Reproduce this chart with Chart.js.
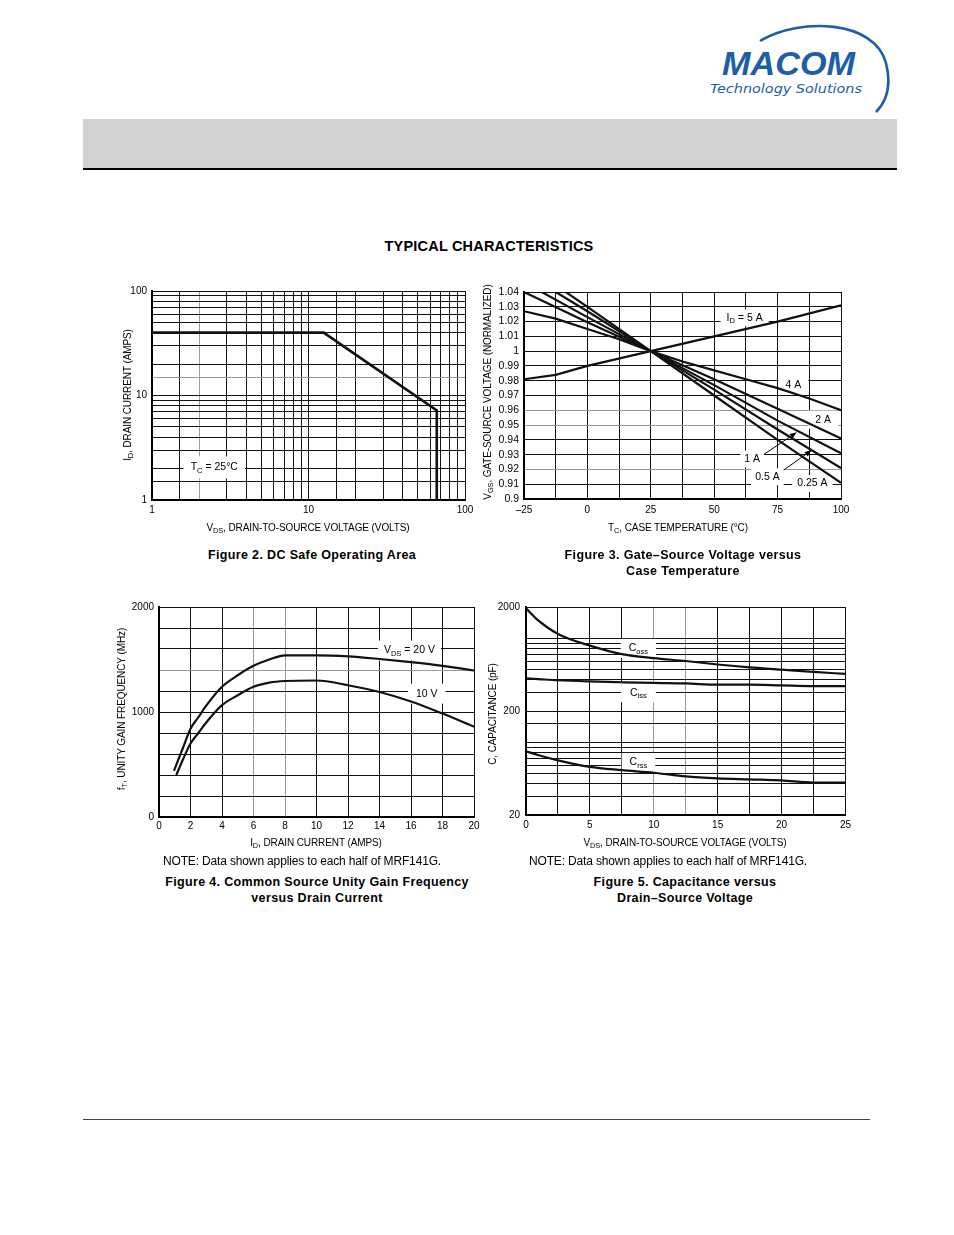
<!DOCTYPE html>
<html>
<head>
<meta charset="utf-8">
<title>Typical Characteristics</title>
<script src="https://cdn.jsdelivr.net/npm/chart.js@4/dist/chart.umd.min.js"></script>
<style>
  body { margin: 0; background: #fff; }
  #page { position: relative; width: 954px; height: 1235px; overflow: hidden;
          font-family: 'Liberation Sans', Arial, sans-serif; color: #000; }
  .abs { position: absolute; white-space: nowrap; }
  .narrow { font-family: 'Liberation Sans Narrow', 'Arial Narrow', 'Liberation Sans', Arial, sans-serif; font-size: 10px; letter-spacing: -0.1px; }
  .ctr { transform: translate(-50%, -50%); text-align: center; }
  .rot { transform: translate(-50%, -50%) rotate(-90deg); }
  .cap { font-weight: bold; font-size: 12.5px; line-height: 16px; letter-spacing: 0.35px; }
  .note { font-size: 12px; letter-spacing: -0.15px; }
  sub { font-size: 0.74em; vertical-align: -0.3em; line-height: 0; }
  canvas { position: absolute; }
</style>
</head>
<body>
<div id="page">

  <!-- header: logo, grey band -->
  <svg class="abs" style="left:690px;top:15px" width="210" height="105" viewBox="0 0 210 105">
    <path d="M 70 26 C 110 2, 185 5, 196 48 C 201 68, 198 85, 186 97" fill="none" stroke="#1c5ea8" stroke-width="2.6"/>
    <text x="32" y="60" font-family="'Liberation Sans Narrow','Liberation Sans',sans-serif" font-weight="bold" font-style="italic"
          font-size="34" fill="#1c5ea8" textLength="133" lengthAdjust="spacingAndGlyphs">MACOM</text>
    <text x="20" y="78" font-family="'DejaVu Sans',sans-serif" font-style="italic" font-size="13"
          fill="#1c5ea8" textLength="152" lengthAdjust="spacingAndGlyphs">Technology Solutions</text>
  </svg>
  <div class="abs" style="left:83px;top:119px;width:814px;height:49px;background:#d2d2d2"></div>
  <div class="abs" style="left:83px;top:168px;width:814px;height:2px;background:#000"></div>

  <div class="abs ctr" style="left:489px;top:246px;font-weight:bold;font-size:14.5px;letter-spacing:0.2px">TYPICAL CHARACTERISTICS</div>

  <!-- chart canvases -->
  <canvas id="soaChart" width="370" height="260" style="left:110px;top:280px;width:370px;height:260px"></canvas>
  <canvas id="vgsChart" width="380" height="260" style="left:475px;top:280px;width:380px;height:260px"></canvas>
  <canvas id="ftChart" width="375" height="260" style="left:110px;top:595px;width:375px;height:260px"></canvas>
  <canvas id="capChart" width="375" height="260" style="left:480px;top:595px;width:375px;height:260px"></canvas>

  <!-- axis titles -->
  <div class="abs narrow rot" style="left:127px;top:395px">I<sub>D</sub>, DRAIN CURRENT (AMPS)</div>
  <div class="abs narrow ctr" style="left:308px;top:527px">V<sub>DS</sub>, DRAIN-TO-SOURCE VOLTAGE (VOLTS)</div>
  <div class="abs narrow rot" style="left:487px;top:392px">V<sub>GS</sub>, GATE-SOURCE VOLTAGE (NORMALIZED)</div>
  <div class="abs narrow ctr" style="left:678px;top:527px">T<sub>C</sub>, CASE TEMPERATURE (°C)</div>
  <div class="abs narrow rot" style="left:121px;top:709px">f<sub>T</sub>, UNITY GAIN FREQUENCY (MHz)</div>
  <div class="abs narrow ctr" style="left:316px;top:842px">I<sub>D</sub>, DRAIN CURRENT (AMPS)</div>
  <div class="abs narrow rot" style="left:492px;top:714px">C, CAPACITANCE (pF)</div>
  <div class="abs narrow ctr" style="left:685px;top:842px">V<sub>DS</sub>, DRAIN-TO-SOURCE VOLTAGE (VOLTS)</div>

  <!-- captions -->
  <div class="abs ctr cap" style="left:312px;top:555px">Figure 2. DC Safe Operating Area</div>
  <div class="abs ctr cap" style="left:683px;top:563px">Figure 3. Gate–Source Voltage versus<br>Case Temperature</div>
  <div class="abs ctr note" style="left:302px;top:861px">NOTE: Data shown applies to each half of MRF141G.</div>
  <div class="abs ctr note" style="left:668px;top:861px">NOTE: Data shown applies to each half of MRF141G.</div>
  <div class="abs ctr cap" style="left:317px;top:890px">Figure 4. Common Source Unity Gain Frequency<br>versus Drain Current</div>
  <div class="abs ctr cap" style="left:685px;top:890px">Figure 5. Capacitance versus<br>Drain–Source Voltage</div>

  <div class="abs" style="left:83px;top:1119px;width:787px;height:1px;background:#444"></div>
</div>

<script>
// ==========================================
// Data
// ==========================================

// Figure 2 - DC safe operating area (log / log)
var soaVoltage = [1, 12.5, 66, 66];
var soaCurrent = [40, 40, 7.2, 1];
var logGridTicks = [1, 1.5, 2, 3, 4, 5, 6, 7, 8, 9, 10, 15, 20, 30, 40, 50, 60, 70, 80, 90, 100];
var soaTickLabels = [1, 10, 100];

// Figure 3 - normalised VGS vs case temperature, one array pair per drain current
var temp5A = [-25, -12.5, 0, 25, 50, 75, 100];
var vgs5A = [0.981, 0.984, 0.990, 1.0, 1.010, 1.020, 1.031];
var temp4A = [-25, -12.5, 0, 12.5, 25, 37.5, 50, 62.5, 75, 87.5, 100];
var vgs4A = [1.027, 1.022, 1.015, 1.008, 1.0, 0.993, 0.987, 0.981, 0.975, 0.968, 0.960];
var temp2A = [-25, 0, 25, 50, 75, 100];
var vgs2A = [1.040, 1.0195, 1.0, 0.981, 0.961, 0.941];
var temp1A = [-18, 0, 25, 50, 75, 100];
var vgs1A = [1.040, 1.023, 1.0, 0.977, 0.953, 0.931];
var temp05A = [-12.5, 0, 25, 50, 75, 100];
var vgs05A = [1.040, 1.027, 1.0, 0.974, 0.947, 0.921];
var temp025A = [-8.5, 0, 25, 50, 75, 100];
var vgs025A = [1.040, 1.030, 1.0, 0.970, 0.940, 0.911];
var tempTicks = [-25, -12.5, 0, 12.5, 25, 37.5, 50, 62.5, 75, 87.5, 100];
var tempTickLabels = [-25, 0, 25, 50, 75, 100];
var vgsTicks = [0.9, 0.91, 0.92, 0.93, 0.94, 0.95, 0.96, 0.97, 0.98, 0.99, 1, 1.01, 1.02, 1.03, 1.04];

// Figure 4 - unity gain frequency vs drain current
var ftCurrent20V = [0.95, 1.5, 2, 2.5, 3, 4, 5, 6, 7, 8, 10, 12, 14, 16, 18, 20];
var ft20V = [440, 650, 840, 950, 1060, 1240, 1350, 1440, 1500, 1540, 1540, 1530, 1505, 1475, 1440, 1395];
var ftCurrent10V = [1.1, 1.5, 2, 2.5, 3, 4, 5, 6, 7, 8, 10, 12, 14, 16, 18, 20];
var ft10V = [400, 540, 700, 800, 900, 1065, 1160, 1240, 1280, 1295, 1300, 1255, 1190, 1100, 985, 860];
var currentTicks = [0, 2, 4, 6, 8, 10, 12, 14, 16, 18, 20];
var ftTicks = [0, 200, 400, 600, 800, 1000, 1200, 1400, 1600, 1800, 2000];
var ftTickLabels = [0, 1000, 2000];

// Figure 5 - capacitance vs drain-source voltage
var capVoltage = [0, 1, 2.5, 5, 7.5, 10, 12.5, 15, 17.5, 20, 22.5, 25];
var coss = [1940, 1470, 1100, 850, 705, 645, 605, 560, 525, 500, 475, 455];
var ciss = [412, 405, 395, 385, 378, 372, 368, 358, 358, 352, 347, 347];
var crss = [82, 75, 67, 58, 54, 51, 47, 45, 44, 43, 41, 41];
var voltTicks = [0, 2.5, 5, 7.5, 10, 12.5, 15, 17.5, 20, 22.5, 25];
var voltTickLabels = [0, 5, 10, 15, 20, 25];
var capTicks = [20, 30, 40, 50, 60, 70, 80, 90, 100, 150, 200, 300, 400, 500, 600, 700, 800, 900, 1000, 2000];
var capTickLabels = [20, 200, 2000];

// ==========================================
// Shared helpers
// ==========================================

var NARROW = "'Liberation Sans Narrow', 'Arial Narrow', 'Liberation Sans', Arial, sans-serif";
Chart.defaults.font.family = NARROW;
Chart.defaults.font.size = 10;
Chart.defaults.color = '#000';
Chart.defaults.animation = false;

function inList(list, v) {
    return list.some(function(t) { return Math.abs(t - v) < 1e-9; });
}

/**
 * Build one axis with an explicit tick list, fixed thickness and a few grey grid lines.
 */
function makeAxis(o) {
    return {
        type: o.type || 'linear',
        min: o.min,
        max: o.max,
        afterBuildTicks: function(scale) {
            scale.ticks = o.ticks.map(function(v) { return { value: v }; });
        },
        afterFit: function(scale) {
            if (scale.isHorizontal()) scale.height = o.fit; else scale.width = o.fit;
        },
        grid: {
            drawTicks: false,
            lineWidth: 1,
            color: function(ctx) {
                return ctx.tick && inList(o.gray || [], ctx.tick.value) ? '#9c9c9c' : '#111';
            }
        },
        border: { display: true, color: '#000', width: 2 },
        ticks: {
            autoSkip: false,
            maxRotation: 0,
            padding: o.pad,
            font: { size: o.fontSize || 10 },
            callback: function(v) {
                if (o.labels && !inList(o.labels, v)) return '';
                return o.format ? o.format(v) : String(v);
            }
        }
    };
}

function curve(xs, ys, opts) {
    return Object.assign({
        data: xs.map(function(x, i) { return { x: x, y: ys[i] }; }),
        showLine: true,
        pointRadius: 0,
        borderColor: '#111',
        borderWidth: 2.2,
        fill: false,
        tension: 0
    }, opts || {});
}

// Curve labels: white box over the grid, text with subscripts, optional arrow leader
var curveLabels = {
    id: 'curveLabels',
    beforeDatasetsDraw: function(chart, args, opts) {
        var ctx = chart.ctx, sx = chart.scales.x, sy = chart.scales.y;
        var size = opts.size || 10.5;
        (opts.items || []).forEach(function(item) {
            ctx.save();
            if (item.leader) {
                var x1 = sx.getPixelForValue(item.leader[0]), y1 = sy.getPixelForValue(item.leader[1]);
                var x2 = sx.getPixelForValue(item.leader[2]), y2 = sy.getPixelForValue(item.leader[3]);
                var a = Math.atan2(y2 - y1, x2 - x1);
                ctx.strokeStyle = '#000';
                ctx.lineWidth = 1;
                ctx.beginPath(); ctx.moveTo(x1, y1); ctx.lineTo(x2, y2); ctx.stroke();
                ctx.beginPath();
                ctx.moveTo(x2, y2);
                ctx.lineTo(x2 - 7 * Math.cos(a - 0.4), y2 - 7 * Math.sin(a - 0.4));
                ctx.lineTo(x2 - 7 * Math.cos(a + 0.4), y2 - 7 * Math.sin(a + 0.4));
                ctx.closePath();
                ctx.fillStyle = '#000';
                ctx.fill();
            }
            var cx = sx.getPixelForValue(item.x), cy = sy.getPixelForValue(item.y);
            var fonts = item.text.map(function(p) { return (p[1] ? size * 0.72 : size) + 'px ' + NARROW; });
            var widths = item.text.map(function(p, i) { ctx.font = fonts[i]; return ctx.measureText(p[0]).width; });
            var total = widths.reduce(function(s, w) { return s + w; }, 0);
            var padX = item.padX || 5, h = item.boxH || size * 1.6;
            ctx.fillStyle = '#fff';
            ctx.fillRect(cx - total / 2 - padX, cy - h / 2, total + 2 * padX, h);
            ctx.fillStyle = '#000';
            ctx.textBaseline = 'middle';
            ctx.textAlign = 'left';
            var x = cx - total / 2;
            item.text.forEach(function(p, i) {
                ctx.font = fonts[i];
                ctx.fillText(p[0], x, cy + (p[1] ? size * 0.32 : 0));
                x += widths[i];
            });
            ctx.restore();
        });
    }
};

function makeChart(id, datasets, scales, padding, labels) {
    return new Chart(document.getElementById(id), {
        type: 'scatter',
        data: { datasets: datasets },
        plugins: [curveLabels],
        options: {
            responsive: false,
            animation: false,
            layout: { padding: padding },
            scales: scales,
            plugins: {
                legend: { display: false },
                tooltip: { enabled: false },
                curveLabels: { items: labels }
            }
        }
    });
}

// ==========================================
// Figure 2: DC Safe Operating Area
// ==========================================
makeChart('soaChart',
    [curve(soaVoltage, soaCurrent, { borderWidth: 2.6 })],
    {
        x: makeAxis({ type: 'logarithmic', min: 1, max: 100, ticks: logGridTicks, labels: soaTickLabels, gray: [2], fit: 40, pad: 4 }),
        y: makeAxis({ type: 'logarithmic', min: 1, max: 100, ticks: logGridTicks, labels: soaTickLabels, gray: [15], fit: 42, pad: 5 })
    },
    { top: 11, right: 15, left: 0, bottom: 0 },
    [
        { x: 2.5, y: 2.05, text: [['T'], ['C', 1], [' = 25°C']], padX: 7, boxH: 22 }
    ]
);

// ==========================================
// Figure 3: Gate-Source Voltage vs Case Temperature
// ==========================================
makeChart('vgsChart',
    [
        curve(temp5A, vgs5A),
        curve(temp4A, vgs4A),
        curve(temp2A, vgs2A),
        curve(temp1A, vgs1A),
        curve(temp05A, vgs05A),
        curve(temp025A, vgs025A)
    ],
    {
        x: makeAxis({ min: -25, max: 100, ticks: tempTicks, labels: tempTickLabels, fit: 41, pad: 5,
                      format: function(v) { return v < 0 ? '\u2013' + Math.abs(v) : String(v); } }),
        y: makeAxis({ min: 0.9, max: 1.04, ticks: vgsTicks, gray: [0.96, 0.95, 0.92], fit: 49, pad: 5, fontSize: 10.5,
                      format: function(v) { return String(parseFloat(v.toFixed(2))); } })
    },
    { top: 12, right: 14, left: 0, bottom: 0 },
    [
        { x: 62, y: 1.0225, text: [['I'], ['D', 1], [' = 5 A']], padX: 6 },
        { x: 81.2, y: 0.977, text: [['4 A']], padX: 7, boxH: 18 },
        { x: 93, y: 0.9536, text: [['2 A']], padX: 7, boxH: 18 },
        { x: 65, y: 0.927, text: [['1 A']], padX: 4, leader: [69, 0.9295, 82.4, 0.9449] },
        { x: 71, y: 0.915, text: [['0.5 A']], padX: 4, leader: [76.1, 0.918, 88.3, 0.9328] },
        { x: 88.7, y: 0.9105, text: [['0.25 A']], padX: 5 }
    ]
);

// ==========================================
// Figure 4: Unity Gain Frequency vs Drain Current
// ==========================================
makeChart('ftChart',
    [
        curve(ftCurrent20V, ft20V, { cubicInterpolationMode: 'monotone' }),
        curve(ftCurrent10V, ft10V, { cubicInterpolationMode: 'monotone' })
    ],
    {
        x: makeAxis({ min: 0, max: 20, ticks: currentTicks, gray: [6, 8], fit: 38, pad: 3 }),
        y: makeAxis({ min: 0, max: 2000, ticks: ftTicks, labels: ftTickLabels, gray: [1400], fit: 49, pad: 5 })
    },
    { top: 12, right: 11, left: 0, bottom: 0 },
    [
        { x: 15.9, y: 1585, text: [['V'], ['DS', 1], [' = 20 V']], padX: 6, boxH: 20 },
        { x: 17, y: 1175, text: [['10 V']], padX: 8, boxH: 20 }
    ]
);

// ==========================================
// Figure 5: Capacitance vs Drain-Source Voltage
// ==========================================
makeChart('capChart',
    [
        curve(capVoltage, coss, { cubicInterpolationMode: 'monotone' }),
        curve(capVoltage, ciss, { cubicInterpolationMode: 'monotone' }),
        curve(capVoltage, crss, { cubicInterpolationMode: 'monotone' })
    ],
    {
        x: makeAxis({ min: 0, max: 25, ticks: voltTicks, labels: voltTickLabels, gray: [10, 12.5], fit: 40, pad: 4 }),
        y: makeAxis({ type: 'logarithmic', min: 20, max: 2000, ticks: capTicks, labels: capTickLabels, fit: 46, pad: 6 })
    },
    { top: 11, right: 9, left: 0, bottom: 0 },
    [
        { x: 8.8, y: 800, text: [['C'], ['oss', 1]], padX: 8, boxH: 19 },
        { x: 8.8, y: 300, text: [['C'], ['iss', 1]], padX: 9, boxH: 19 },
        { x: 8.8, y: 64, text: [['C'], ['rss', 1]], padX: 8, boxH: 19 }
    ]
);
</script>
</body>
</html>
